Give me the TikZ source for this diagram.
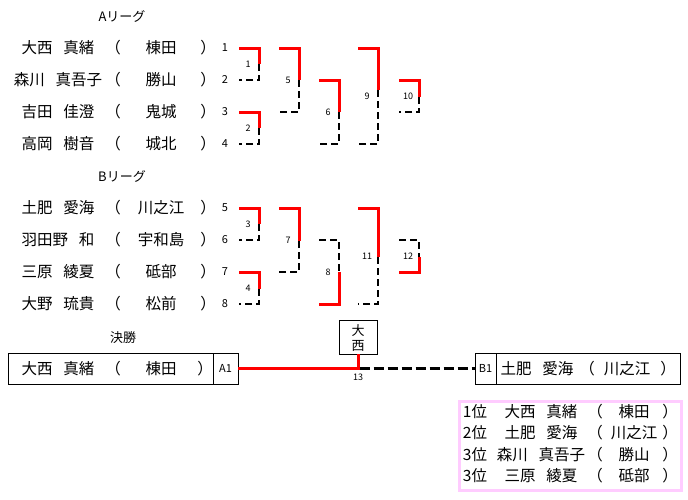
\documentclass[tikz,border=0pt]{standalone}
\usepackage{fontspec}
\setmainfont{Noto Sans CJK JP}
\definecolor{pinkc}{RGB}{255,204,255}
\newcommand\hs{\hspace{11pt}}
\newcommand\bracket[8]{%
  \coordinate (#1tl) at ({#2-20},#3);
  \coordinate (#1tr) at (#2,#3);
  \coordinate (#1m) at (#2,#5);
  \coordinate (#1br) at (#2,#4);
  \coordinate (#1bl) at ({#2-20},#4);
  \draw[#6] (#1tl) -- (#1tr) -- (#1m);
  \draw[#7] (#1m) -- (#1br) -- (#1bl);
  \node[lbl] (#1lab) at ({#2-11},{(#3+#4)/2}) {#8};
}
\newcommand\player[5]{%
  \node[nm] (n#1) at (58,#2) {#3};
  \node[nm] (lp#1) at (113,#2) {（};
  \node[nm] (s#1) at (161,#2) {#4};
  \node[nm] (rp#1) at (208,#2) {）};
  \node[num] (k#1) at (225,#2) {#5};
}
\newcommand\rank[5]{%
  \node[nm] (r#1a) at (475,#2) {#3};
  \node[nm] (r#1b) at (541,#2) {#4};
  \node[nm] (r#1c) at (595,#2) {（};
  \node[nm] (r#1d) at (634,#2) {#5};
  \node[nm] (r#1e) at (670,#2) {）};
}
\begin{document}
\begin{tikzpicture}[x=1pt,y=-1pt,
  win/.style={draw=red, line width=3pt},
  lose/.style={draw=black, line width=2.7pt, dash pattern=on 7pt off 4pt},
  nm/.style={inner sep=0pt, font=\fontsize{15.5}{15.5}\selectfont},
  num/.style={inner sep=0pt, font=\fontsize{11}{11}\selectfont},
  lbl/.style={inner sep=0pt, font=\fontsize{9}{9}\selectfont},
  head/.style={inner sep=0pt, font=\fontsize{13}{13}\selectfont},
  fbox/.style={draw, line width=0.8pt, inner sep=0pt, minimum height=31pt},
]
\path[use as bounding box] (0,0) rectangle (688,499);

% A league
\node[head] (ha) at (122,16) {Aリーグ};
\player{1}{48}{大西\hs 真緒}{棟田}{1}
\player{2}{80}{森川\hs 真吾子}{勝山}{2}
\player{3}{112}{吉田\hs 佳澄}{鬼城}{3}
\player{4}{144}{高岡\hs 樹音}{城北}{4}

% B league
\node[head] (hb) at (122,176) {Bリーグ};
\player{5}{208}{土肥\hs 愛海}{川之江}{5}
\player{6}{240}{羽田野\hs 和}{宇和島}{6}
\player{7}{272}{三原\hs 綾夏}{砥部}{7}
\player{8}{304}{大野\hs 琉貴}{松前}{8}

% brackets
\bracket{m1}{259}{48}{80}{64}{win}{lose}{1}
\bracket{m2}{259}{112}{144}{128}{win}{lose}{2}
\bracket{m5}{299}{48}{112}{80}{win}{lose}{5}
\bracket{m6}{339}{80}{144}{112}{win}{lose}{6}
\bracket{m9}{378}{48}{144}{90}{win}{lose}{9}
\bracket{m10}{419}{80}{112}{97}{win}{lose}{10}
\bracket{m3}{259}{208}{240}{224}{win}{lose}{3}
\bracket{m4}{259}{272}{304}{289}{win}{lose}{4}
\bracket{m7}{299}{208}{272}{241}{win}{lose}{7}
\bracket{m8}{339}{240}{304}{272}{lose}{win}{8}
\bracket{m11}{378}{208}{304}{257}{win}{lose}{11}
\bracket{m12}{419}{240}{272}{257}{lose}{win}{12}

% final
\node[head] (kessho) at (123,338) {決勝};
\node[fbox, minimum width=205pt] (fa) at (110.5,368.5) {};
\node[fbox, minimum width=25pt, font=\fontsize{11}{11}\selectfont] (fa1) at (225.5,368.5) {A1};
\node[nm] (fan) at (58,369) {大西\hs 真緒};
\node[nm] (falp) at (113,369) {（};
\node[nm] (fas) at (161,369) {棟田};
\node[nm] (farp) at (205,369) {）};

\node[draw, line width=0.8pt, minimum width=38pt, minimum height=34pt, inner sep=0pt] (champ) at (358,337) {};
\node[head] (c1) at (358,331) {大};
\node[head] (c2) at (358,346) {西};

\node[fbox, minimum width=21pt, font=\fontsize{11}{11}\selectfont] (fb1) at (485.5,368.5) {B1};
\node[fbox, minimum width=184pt] (fb) at (588,368.5) {};
\node[nm] (fbn) at (537,369) {土肥\hs 愛海};
\node[nm] (fblp) at (587,369) {（};
\node[nm] (fbs) at (627,369) {川之江};
\node[nm] (fbrp) at (668,369) {）};

\coordinate (j) at (358,368.5);
\draw[win] (fa1.east) -- (j) -- (champ.south);
\draw[lose, dash pattern=on 10pt off 4pt] ([xshift=1.5pt]j) -- (fb1.west);
\node[lbl] (l13) at (358,377) {13};

% results
\node[draw=pinkc, line width=3pt, minimum width=222pt, minimum height=89pt, inner sep=0pt] (res) at (570,445.5) {};
\rank{1}{412}{1位}{大西\hs 真緒}{棟田}
\rank{2}{433}{2位}{土肥\hs 愛海}{川之江}
\rank{3}{455}{3位}{森川\hs 真吾子}{勝山}
\rank{4}{476}{3位}{三原\hs 綾夏}{砥部}
\end{tikzpicture}
\end{document}
